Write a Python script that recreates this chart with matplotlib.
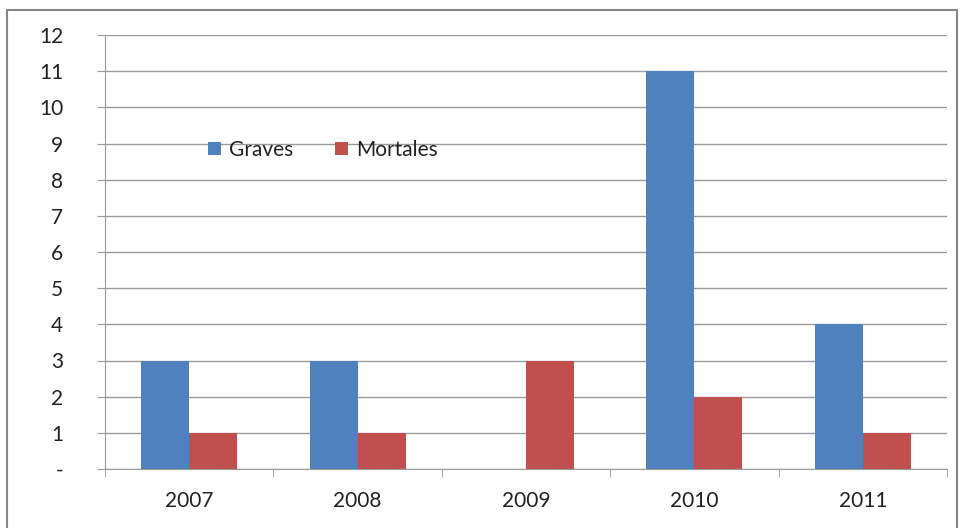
import numpy as np
import matplotlib.pyplot as plt
from matplotlib.patches import Rectangle

years = ['2007', '2008', '2009', '2010', '2011']
graves = [3, 3, 0, 11, 4]
mortales = [1, 1, 3, 2, 1]
yticks = list(range(0, 13))
ylabels = ['-'] + [str(v) for v in range(1, 13)]

plt.rcParams['font.family'] = ['Lato', 'DejaVu Sans']

fig = plt.figure(figsize=(9.63, 5.28), dpi=100)
ax = fig.add_axes([105/963, 1-469/528, 842/963, 434/528])

# outer chart border
fig.add_artist(Rectangle((7/963, -0.1), 950/963, 1.1 - 10/528, transform=fig.transFigure,
                         fill=False, edgecolor='#868686', linewidth=1.5))

x = np.arange(len(years))
w = 0.285
ax.bar(x - w/2, graves, width=w, color='#4F81BD', label='Graves', zorder=3)
ax.bar(x + w/2, mortales, width=w, color='#C0504D', label='Mortales', zorder=3)

ax.set_xlim(-0.5, len(years) - 0.5)
ax.set_ylim(0, 12)
ax.set_yticks(yticks)
ax.set_yticklabels(ylabels)
ax.set_xticks(x)
ax.set_xticklabels(years)
ax.set_xticks(np.arange(-0.5, len(years), 1.0), minor=True)
ax.tick_params(axis='x', which='major', length=0, pad=16, labelsize=15, colors='#222222')
ax.tick_params(axis='x', which='minor', length=6, color='#9a9a9a', direction='out')
ax.tick_params(axis='y', length=6, color='#9a9a9a', pad=24, labelsize=15, colors='#222222')
ax.grid(axis='y', color='#9a9a9a', linewidth=1, zorder=0)

for s in ['top', 'right']:
    ax.spines[s].set_visible(False)
for s in ['left', 'bottom']:
    ax.spines[s].set_color('#9a9a9a')

leg = ax.legend(loc='center', bbox_to_anchor=(323/963, 1-150/528), bbox_transform=fig.transFigure,
                ncol=2, frameon=False, fontsize=15, handlelength=0.6, handleheight=0.6,
                handletextpad=0.4, columnspacing=2.0)
for t in leg.get_texts():
    t.set_color('#222222')

fig.savefig('out.png', dpi=100)
